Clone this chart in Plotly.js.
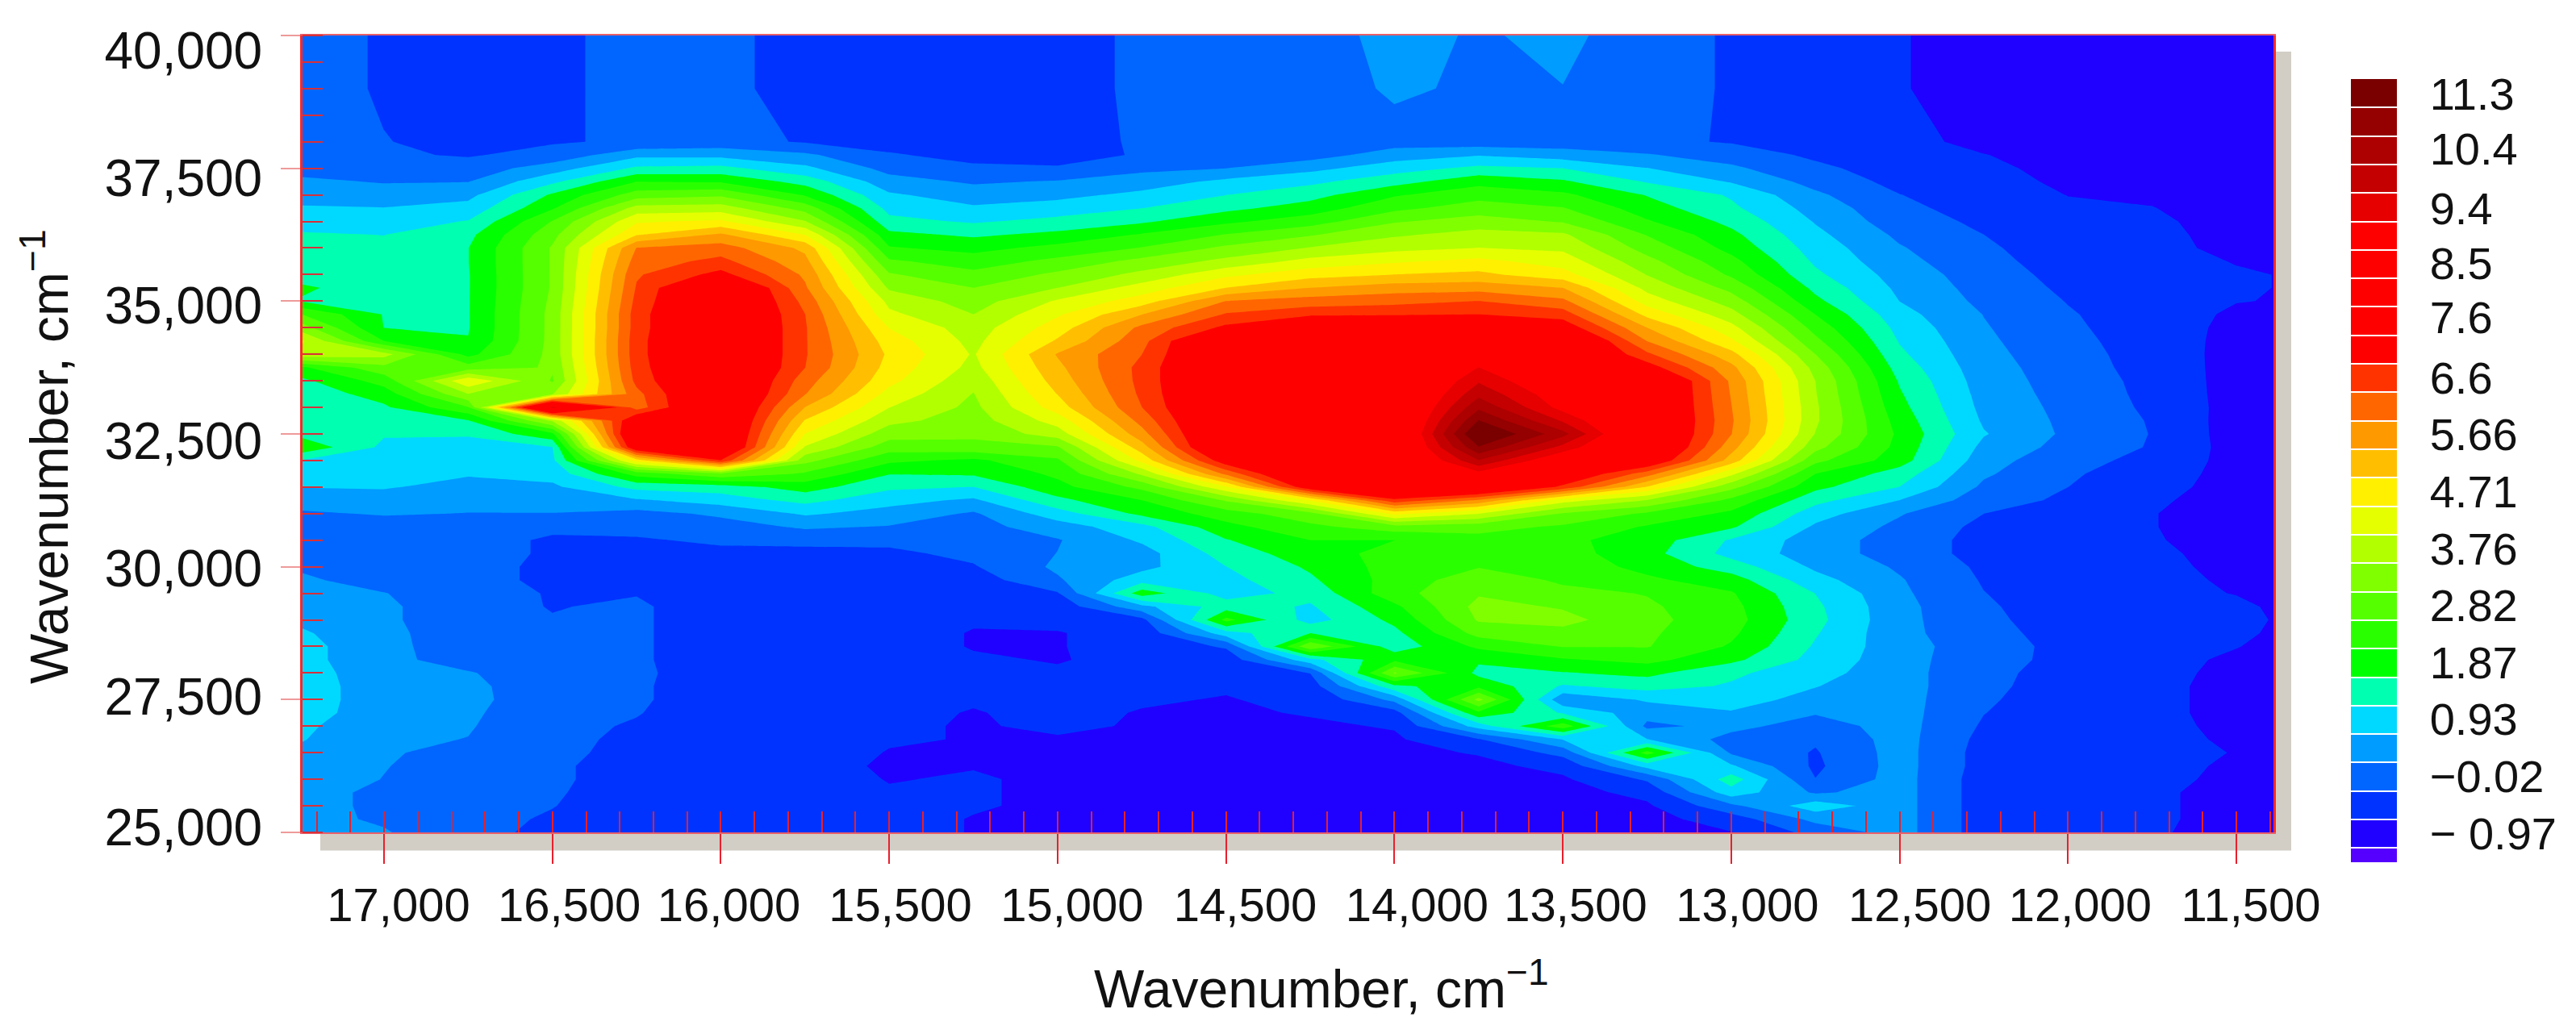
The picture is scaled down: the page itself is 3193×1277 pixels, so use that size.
<!DOCTYPE html>
<html><head><meta charset="utf-8">
<script src="https://cdn.plot.ly/plotly-3.0.1.min.js"></script>
<style>html,body{margin:0;padding:0;background:#fff}</style></head>
<body><div id="chart" style="width:3193px;height:1277px"></div>
<script>
// Rows (y wavenumber, top to bottom)
const rowsY=[40000,39000,38000,
37750,37500,37250,37000, 36750,36500,36250,36000, 35750,35500,35250,35000, 34750,34500,34250,34000,
33750,33500,33250,33000, 32750,32500,32250,32000, 31750,31500,31250,31000, 30750,30500,30250,30000,
29750,29500,29250,29000, 28750,28500,28250,28000, 27750,27500,27250,27000, 26750,26500,26250,26000,
25750,25500,25250,25000];
const colsX=[17250,17000,16750,16500,16250,16000,15750,15500,15250,15000,14750,14500,14250,14000,13750,13500,13250,13000,12750,12500,12250,12000,11750,11500,11250];
// One list per column
const c17250=[-.1,-.1,0, 0,.05,.3,.42, .75,.98,1.2,1.3, 1.35,1.45,1.7,1.6, 2.6,3.3,4.1,3.9, 2,1.5,1.3,1.3, 1.4,1.5,2,1.15, .95,.7,.4,.15, .1,.05,0,.15, .3,.35,.4,.6, .75,.85,.85,.9, .95,1,.95,.8, .72,.6,.5,.45, .4,.4,.35,.3];
const c17000=[-.3,-.3,-.25, -.2,0,.18,.42, .7,.95,1.15,1.25, 1.3,1.35,1.4,1.5, 1.6,1.62,2.1,3.7, 2.9,2.3,1.85,1.55, 1.35,1.2,1.05,.95, .8,.72,.5,.25, 0,-.05,-.1,-.1, 0,.23,.3,.3, .35,.35,.35,.4, .4,.35,.35,.3, .3,.25,.23,.2, .1,.1,.15,.25];
const c16750=[-.4,-.4,-.35, -.3,-.05,.2,.55, .85,1.18,1.5,1.62, 1.62,1.6,1.6,1.6, 1.6,1.6,1.65,1.95, 2.8,4.4,3.5,2.55, 1.6,1.2,1,.9, .72,.55,.35,.2, -.1,-.15,-.15,-.2, -.2,-.15,-.1,-.1, -.1,-.05,0,.25, .35,.35,.3,.25, .2,.1,0,-.05, -.1,-.1,-.15,-.15];
const c16500=[-.3,-.3,-.3, -.1,.45,1.05,1.7, 2.05,2.6,2.9,3.1, 3.1,3.1,3.1,3.15, 3.2,3.2,3.2,3.2, 3.1,3,3.5,9.4, 3.6,2,1.15,1.05, .85,.6,.4,.2, -.2,-.3,-.3,-.3, -.3,-.28,-.28,-.24, -.2,-.15,-.15,-.1, -.15,-.1,-.15,-.15, -.15,-.15,-.2,-.2, -.22,-.25,-.3,-.35];
const c16250=[-.2,-.2,-.2, .55,1.25,2.1,2.8, 3.7,4.4,4.9,5.9, 6.1,6.3,6.4,6.5, 6.6,6.6,6.65,6.65, 6.6,6.5,6.2,6.1, 7.5,8,7.5,4.7, 2.3,1.3,.62,.05, -.15,-.3,-.35,-.35, -.3,-.28,-.2,-.2, -.2,-.2,-.2,-.18, -.2,-.2,-.24,-.3, -.35,-.4,-.42,-.42, -.45,-.45,-.45,-.45];
const c16000=[-.1,-.1,-.1, .55,1.3,2.05,2.95, 3.75,4.55,5.5,6.1, 6.5,7,8,8, 8,8,8,8, 8,8,8,8, 8,8,8,6.8, 3,1.4,.9,.3, 0,-.2,-.35,-.4, -.45,-.45,-.5,-.5, -.5,-.5,-.5,-.5, -.5,-.5,-.5,-.5, -.5,-.5,-.5,-.5, -.5,-.5,-.5,-.5];
const c15750=[-.5,-.5,-.3, .3,.8,1.45,2.05, 2.85,3.55,4.45,5.3, 5.55,5.8,5.95,6.2, 6.36,6.4,6.4,6.4, 6.36,6.1,5.9,5.4, 4.9,4.45,3.95,3.2, 2.5,1.85,1.3,.75, .28,-.13,-.4,-.5, -.5,-.5,-.55,-.55, -.55,-.55,-.55,-.55, -.55,-.55,-.55,-.55, -.55,-.55,-.55,-.55, -.55,-.55,-.55,-.55];
const c15500=[-.6,-.6,-.5, -.2,.05,.4,.75, 1,1.3,1.75,2.15, 2.65,3.1,3.45,3.85, 4.1,4.45,4.7,4.85, 4.75,4.6,4.3,4, 3.65,3.25,2.8,2.2, 1.65,1.25,.85,.5, .18,-.15,-.35,-.55, -.7,-.7,-.65,-.6, -.6,-.6,-.6,-.6, -.65,-.65,-.65,-.7, -.7,-.75,-.8,-.75, -.7,-.6,-.6,-.6];
const c15250=[-.6,-.6,-.6, -.45,-.15,.15,.45, .75,1.1,1.55,1.95, 2.35,2.7,3.05,3.3, 3.52,3.75,3.85,3.95, 3.85,3.65,3.5,3.4, 3.3,3.15,2.9,2, 1.7,1.15,.6,.15, .05,0,-.15,-.3, -.5,-.6,-.65,-.7, -.75,-.75,-.7,-.7, -.7,-.7,-.75,-.75, -.75,-.75,-.75,-.7, -.7,-.7,-.75,-.75];
const c15000=[-.6,-.6,-.6, -.5,-.2,.25,.55, .9,1.3,1.75,2.25, 2.7,3.15,3.52,4.05, 4.4,4.7,5,5.45, 5.3,5.15,4.95,4.7, 4.2,3.75,3,2.5, 2.2,1.95,1.5,.95, .45,.18,.22,.3, .15,-.3,-.55,-.65, -.75,-.75,-.75,-.7, -.65,-.6,-.65,-.7, -.75,-.75,-.8,-.8, -.8,-.8,-.8,-.8];
const c14750=[-.1,-.1,-.15, -.2,.1,.45,.8, 1.15,1.55,2.15,2.6, 3.2,3.65,4.2,4.7, 5.4,6,6.2,6.35, 6.5,6.5,6.45,6.35, 6.05,5.7,5.2,4.6, 3.6,2.7,2.1,1.75, 1,.75,.5,.55, .95,1.9,.55,-.4, -.6,-.6,-.65,-.7, -.7,-.7,-.75,-.75, -.75,-.8,-.85,-.85, -.85,-.9,-.9,-.9];
const c14500=[-.1,-.1,-.15, -.05,.21,.8,1.15, 1.5,2,2.6,3.15, 3.65,4.35,4.94,5.89, 6.4,6.95,8,8, 8,8,8,8, 8,8,8,7.2, 6,4.4,3.1,2.35, 1.95,1.6,1.35,1.15, 1,.95,1.4,2.25, .95,-.2,-.55,-.65, -.7,-.75,-.8,-.8, -.85,-.9,-.9,-.9, -.9,-.9,-.95,-.95];
const c14250=[-.05,-.1,-.15, 0,.55,1.05,1.45, 1.85,2.35,3,3.55, 4.15,4.75,5.41,6.1, 6.7,8,8,8, 8,8,8,8, 8,8,8,8, 8,7.3,4.5,2.9, 2.45,2.1,1.9,1.7, 1.55,1.3,1.1,.95, 1.63,3,1,-.25, -.5,-.65,-.7,-.8, -.85,-.9,-.9,-.9, -.95,-.95,-.95,-.95];
const c14000=[.4,.3,0, .45,.95,1.45,2.05, 2.45,3,3.45,3.85, 4.4,4.94,5.65,6.2, 6.75,8,8,8, 8,8,8,8, 8,8,8,8, 8,8,6.7,4.6, 2.85,2.1,2.25,2.3, 2.3,2.4,2,1.75, 1.5,1.35,2,3.1, 1.5,.35,-.45,-.7, -.8,-.85,-.9,-.9, -.95,-.95,-1,-1];
const c13750=[.15,.12,-.05, .65,1.28,1.95,2.4, 2.8,3.25,3.7,4, 4.6,5.05,5.7,6.36, 6.83,7.5,8.2,8.8, 9.2,9.6,10,10.5, 11.1,11.7,11.05,10.1, 9,8,5.8,4, 2.75,2.4,2.4,2.55, 2.85,3,3.2,3.1, 2.75,2.2,1.7,1.5, 2,3.2,2,.9, -.3,-.7,-.85,-.9, -.95,-1,-1,-1];
const c13500=[.35,.2,-.05, .45,1.16,1.7,2.2, 2.6,3,3.6,3.9, 4.25,4.65,5.41,6, 6.6,7.2,8,8, 8,8.5,8.8,9, 9.6,10.3,9.5,8.6, 7.5,6.7,4.2,3, 2.5,2.2,2.3,2.4, 2.5,2.7,3,3.2, 2.9,2.6,2.05,1.6, 1.1,.3,1.1,2.4, .7,-.1,-.6,-.8, -.9,-.95,-1,-1];
const c13250=[-.1,-.1,-.15, .25,.7,1.12,1.6, 1.85,2.15,2.55,2.85, 3.2,3.5,3.85,4.25, 4.8,5.41,5.87,6.45, 7.1,8,8,8, 8,8,8,7.5, 6.1,4.9,3.5,2.5, 2.05,1.9,1.8,1.95, 2.2,2.55,2.65,2.7, 2.65,2.6,2.25,1.75, 1.35,.75,.4,.1, .7,2.3,.85,-.2, -.6,-.8,-.9,-.95];
const c13000=[-.3,-.3,-.3, 0,.3,.65,1.1, 1.25,1.5,1.75,1.95, 2.25,2.5,2.9,3.3, 3.7,4.15,4.55,5.1, 5.55,5.8,5.85,5.9, 5.95,5.9,5.6,5.2, 4.1,3.2,2.45,2, 1.7,1.1,1,1.4, 1.85,2.15,2.25,2.3, 2.2,2.05,1.75,1.25, 1.1,.85,.65,.35, .05,.15,.75,1.4, .95,.1,-.5,-.75];
const c12750=[-.5,-.5,-.5, -.35,-.15,.05,.3, .5,.65,.8,.95, 1.08,1.25,1.5,1.75, 2.1,2.4,2.7,3.05, 3.35,3.52,3.55,3.6, 3.6,3.5,3.2,2.7, 2.1,1.75,1.3,.9, .6,.45,.45,.6, .85,1.15,1.25,1.3, 1.2,1.1,1,.85, .7,.55,.25,0, -.2,-.3,-.35,-.25, .15,.95,.35,-.1];
const c12500=[-.7,-.7,-.6, -.58,-.5,-.4,-.25, -.15,-.05,.12,.25, .35,.48,.58,.68, .85,1,1.12,1.25, 1.42,1.58,1.68,1.78, 1.9,2,1.95,1.85, 1.4,1.15,.68,.25, .1,0,0,.15, .25,.3,.35,.35, .35,.4,.4,.4, .4,.4,.4,.4, .4,.4,.4,.4, .4,.4,.4,.4];
const c12250=[-.95,-.95,-.85, -.72,-.65,-.6,-.55, -.45,-.35,-.26,-.18, -.1,-.03,.03,.1, .2,.25,.3,.35, .4,.45,.5,.55, .62,.72,.55,.4, .28,.12,-.05,-.26, -.38,-.42,-.42,-.35, -.3,-.25,-.2,-.15, -.1,-.05,-.1,-.15, -.15,-.2,-.25,-.32, -.4,-.45,-.45,-.5, -.5,-.5,-.5,-.5];
const c12000=[-.95,-.95,-.92, -.9,-.85,-.8,-.74, -.68,-.62,-.58,-.54, -.5,-.42,-.35,-.28, -.22,-.18,-.13,-.08, -.03,0,.03,.07, .1,.12,.05,-.1, -.2,-.26,-.35,-.4, -.5,-.55,-.55,-.55, -.55,-.55,-.5,-.5, -.45,-.4,-.38,-.42, -.48,-.5,-.55,-.55, -.6,-.6,-.6,-.6, -.6,-.6,-.6,-.6];
const c11750=[-1,-1,-.95, -.95,-.9,-.85,-.8, -.72,-.65,-.62,-.6, -.6,-.58,-.55,-.55, -.52,-.5,-.48,-.46, -.45,-.4,-.38,-.35, -.3,-.28,-.3,-.4, -.5,-.6,-.68,-.72, -.72,-.7,-.65,-.62, -.6,-.6,-.6,-.6, -.6,-.6,-.6,-.6, -.6,-.6,-.6,-.6, -.6,-.6,-.6,-.6, -.65,-.65,-.65,-.68];
const c11500=[-1,-1,-1, -1,-1,-.98,-.98, -.95,-.92,-.88,-.85, -.75,-.7,-.7,-.72, -.8,-.85,-.88,-.9, -.9,-.92,-.92,-.92, -.95,-.95,-.92,-.9, -.9,-.88,-.88,-.9, -.9,-.9,-.88,-.85, -.8,-.75,-.65,-.6, -.65,-.72,-.8,-.85, -.9,-.9,-.9,-.85, -.8,-.75,-.8,-.85, -.9,-.9,-.9,-.9];
const c11250=[-1,-1,-1, -1,-1,-1,-1, -1,-1,-1,-1, -.78,-.78,-.78,-.78, -.95,-.95,-.95,-.95, -.95,-.95,-.95,-.95, -.95,-.95,-.95,-.95, -.95,-.95,-.95,-.95, -.95,-.95,-.95,-.95, -.95,-.95,-.95,-.95, -.95,-.95,-.95,-.95, -.95,-.95,-.95,-.95, -.95,-.95,-.95,-.95, -.95,-.95,-.95,-.95];
const columns=[c17250,c17000,c16750,c16500,c16250,c16000,c15750,c15500,c15250,c15000,c14750,c14500,c14250,c14000,c13750,c13500,c13250,c13000,c12750,c12500,c12250,c12000,c11750,c11500,c11250];
const zRows=rowsY.map((_,r)=>columns.map(c=>c[r]));

const bandColors=['#5500ff','#2000ff','#0033ff','#0066ff','#009cff','#00d9ff','#00ffb0','#00ff00','#2aff00','#55ff00','#80ff00','#b2ff00','#e5ff00','#fff000','#ffbf00','#ff9900','#ff6600','#ff3300','#ff0000','#ff0000','#ff0000','#ff0000','#ff0000','#e60000','#c40000','#ad0000','#950000','#7a0000'];
const levelStart=-1.206, levelSize=0.4725, levelEnd=11.08;
const barMin=-1.442, barMax=11.551;
const barTickVals=[11.3,10.4,9.4,8.5,7.6,6.6,5.66,4.71,3.76,2.82,1.87,0.93,-0.02,-0.97];
const barTickText=['11.3','10.4','9.4','8.5','7.6','6.6','5.66','4.71','3.76','2.82','1.87','0.93','−0.02','− 0.97'];
const xTicks=[17000,16500,16000,15500,15000,14500,14000,13500,13000,12500,12000,11500];
const yTicks=[25000,27500,30000,32500,35000,37500,40000];
// where each printed label sits in the reference (labels are not centred on their tick marks)
const xLabelPos=[16957,16450,15976,15467,14957,14443,13933,13462,12952,12440,11964,11457];
const yLabelPos=[25100,27552,29966,32364,34915,37313,39720];
const xRange=[17242,11390], yRange=[25000,40000];

const fillScale=bandColors.map((c,k)=>[k/(bandColors.length-1),c]);
const barScale=[];
bandColors.forEach((c,k)=>{
  const lo=k===0?barMin:levelStart+(k-1)*levelSize, hi=k===bandColors.length-1?barMax:levelStart+k*levelSize;
  barScale.push([(lo-barMin)/(barMax-barMin),c],[(hi-barMin)/(barMax-barMin),c]);
});
const font='"Liberation Sans", Arial, sans-serif';
const tickRed='#e8202c', paleRed='#ee9a9a', minorRed='#d8303a';
const clear='rgba(0,0,0,0)';
const fmt=v=>v.toLocaleString('en-US');
const traces=[
 {type:'contour',x:colsX,y:rowsY,z:zRows,autocontour:false,
  contours:{start:levelStart,end:levelEnd,size:levelSize,coloring:'fill',showlines:false},
  line:{width:0,smoothing:0},colorscale:fillScale,showscale:false,hoverinfo:'skip'},
 {type:'contour',xaxis:'x2',yaxis:'y2',x:[0,1],y:[0,1],z:[[barMin,barMax],[barMin,barMax]],autocontour:false,
  zauto:false,zmin:barMin,zmax:barMax,
  contours:{start:levelStart,end:levelEnd,size:levelSize,coloring:'heatmap',showlines:true},
  line:{color:'#ffffff',width:2,smoothing:0},colorscale:barScale,hoverinfo:'skip',
  colorbar:{thicknessmode:'pixels',thickness:57,lenmode:'pixels',len:971,xref:'paper',yref:'paper',
    x:(2914-375)/2443,xanchor:'left',xpad:0,y:1-(98-44)/988,yanchor:'top',ypad:0,
    outlinewidth:0,borderwidth:0,bgcolor:clear,
    tickmode:'array',tickvals:barTickVals,ticktext:barTickText,ticks:'outside',ticklen:30,tickwidth:1,tickcolor:clear,
    tickfont:{family:font,size:56,color:'#111'}}},
 {type:'scatter',xaxis:'x3',yaxis:'y3',x:[],y:[],hoverinfo:'skip',showlegend:false}
];
const layout={
 width:3193,height:1277,paper_bgcolor:'#fff',plot_bgcolor:clear,showlegend:false,
 margin:{l:375,r:375,t:44,b:245,pad:0,autoexpand:false},font:{family:font,color:'#111'},
 xaxis:{range:xRange,autorange:false,tickmode:'array',tickvals:xTicks,showticklabels:false,
   ticks:'outside',ticklen:37,tickwidth:2,tickcolor:tickRed,
   minor:{ticks:'inside',dtick:100,ticklen:26,tickwidth:2,tickcolor:tickRed,tick0:0},
   showline:true,linecolor:'#e8606a',linewidth:2,mirror:true,showgrid:false,zeroline:false,anchor:'y'},
 yaxis:{range:yRange,autorange:false,tickmode:'array',tickvals:yTicks,showticklabels:false,
   ticks:'outside',ticklen:24,tickwidth:2,tickcolor:paleRed,
   minor:{ticks:'inside',dtick:500,ticklen:25,tickwidth:2,tickcolor:minorRed,tick0:0},
   showline:true,linecolor:'#ff2a2a',linewidth:3,mirror:true,showgrid:false,zeroline:false,anchor:'x'},
 xaxis2:{overlaying:'x',anchor:'y2',range:xRange,autorange:false,tickmode:'array',tickvals:xTicks,ticks:'inside',ticklen:26,tickwidth:2,tickcolor:tickRed,showticklabels:false,showgrid:false,zeroline:false},
 yaxis2:{overlaying:'y',anchor:'x2',range:yRange,autorange:false,tickmode:'array',tickvals:yTicks,ticks:'inside',ticklen:25,tickwidth:2,tickcolor:minorRed,showticklabels:false,showgrid:false,zeroline:false},
 xaxis3:{overlaying:'x',anchor:'y3',range:xRange,autorange:false,tickmode:'array',tickvals:xLabelPos,ticktext:xTicks.map(fmt),ticks:'outside',ticklen:39,tickcolor:clear,tickfont:{family:font,size:58,color:'#111'},showgrid:false,zeroline:false,showline:false},
 yaxis3:{overlaying:'y',anchor:'x3',range:yRange,autorange:false,tickmode:'array',tickvals:yLabelPos,ticktext:yTicks.map(fmt),ticks:'outside',ticklen:36,tickcolor:clear,tickfont:{family:font,size:64,color:'#111'},showgrid:false,zeroline:false,showline:false},
 shapes:[{type:'rect',xref:'paper',yref:'paper',layer:'below',x0:22/2443,x1:1+22/2443,y0:-22.6/988,y1:1-20/988,fillcolor:'#d2cec6',line:{width:0}}],
 annotations:[
  {xref:'paper',yref:'paper',x:(1638-375)/2443,y:1-(1221-44)/988,xanchor:'center',yanchor:'middle',showarrow:false,text:'Wavenumber, cm<sup>−1</sup>',font:{family:font,size:66,color:'#111'}},
  {xref:'paper',yref:'paper',x:(56-375)/2443,y:1-(566-44)/988,xanchor:'center',yanchor:'middle',textangle:-90,showarrow:false,text:'Wavenumber, cm<sup>−1</sup>',font:{family:font,size:66,color:'#111'}}
 ]
};
Plotly.newPlot('chart',traces,layout,{displayModeBar:false,staticPlot:true});
</script></body></html>
